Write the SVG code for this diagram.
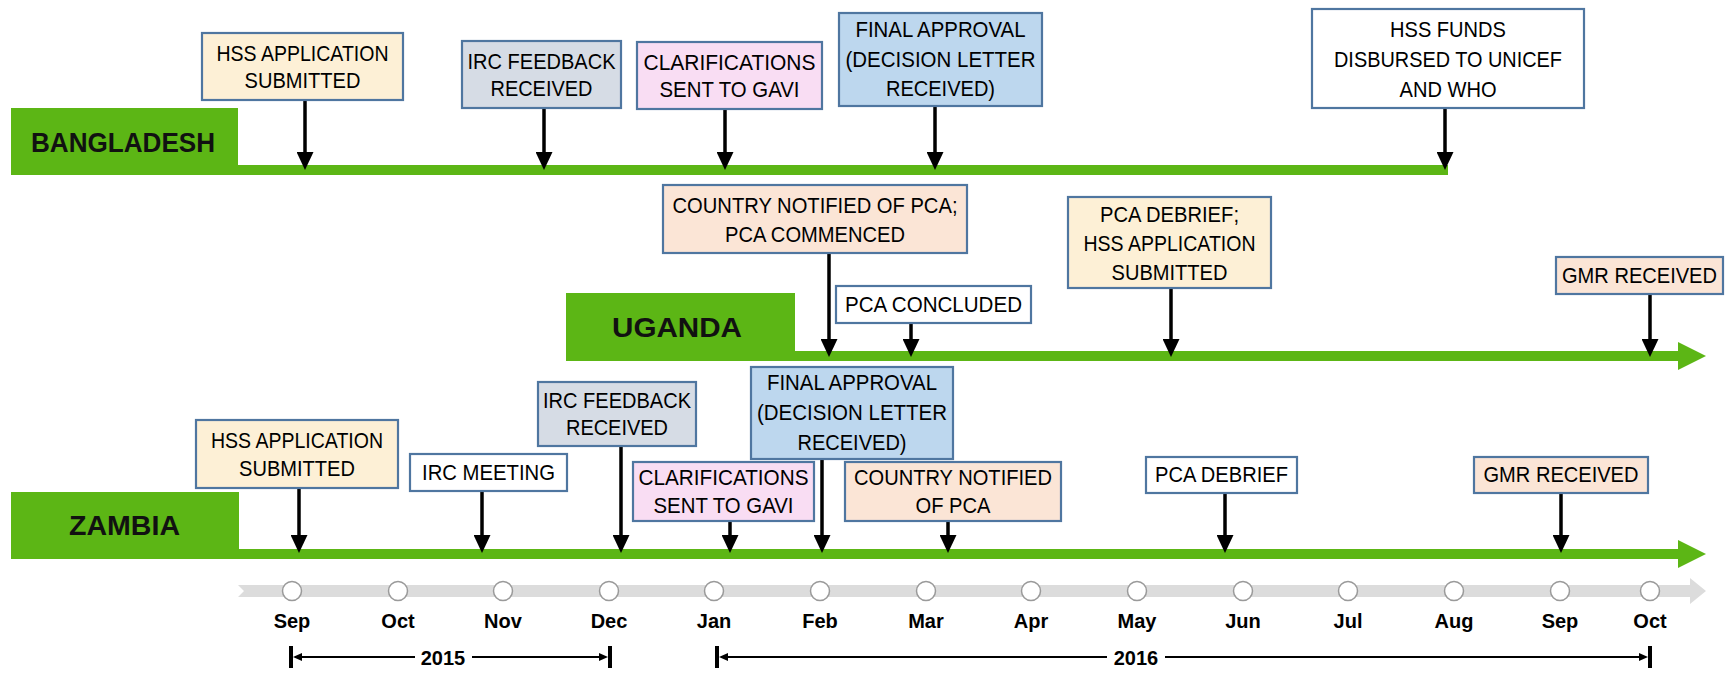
<svg xmlns="http://www.w3.org/2000/svg" width="1736" height="676" viewBox="0 0 1736 676">
<defs>
<style>
.box{stroke:#4f76a0;stroke-width:2.2}
.t{font-family:"Liberation Sans",Arial,sans-serif;font-size:22px;fill:#000;text-anchor:middle}
.lab{font-family:"Liberation Sans",Arial,sans-serif;font-size:28px;font-weight:bold;fill:#111}
.mon{font-family:"Liberation Sans",Arial,sans-serif;font-size:20px;font-weight:bold;fill:#000;text-anchor:middle}
.yr{font-family:"Liberation Sans",Arial,sans-serif;font-size:20px;font-weight:bold;fill:#000;text-anchor:middle}
.ar{stroke:#000;stroke-width:3.5;fill:none;marker-end:url(#ah)}
.g{fill:#5cb615}
.beige{fill:#fdf0d6}.grey{fill:#d6dce5}.pink{fill:#f9ddf3}.blue{fill:#bdd7ee}.white{fill:#fff}.peach{fill:#fbe5d6}
.circ{fill:#fff;stroke:#9a9a9a;stroke-width:1.5}
.br{stroke:#000;stroke-width:2;fill:none}
</style>
<marker id="ah" viewBox="0 0 18 17" markerWidth="18" markerHeight="17" refX="9" refY="8.5" orient="auto" markerUnits="userSpaceOnUse">
<path d="M0,0 L18,8.5 L0,17 z" fill="#000"/>
</marker>
</defs>
<rect width="1736" height="676" fill="#fff"/>

<g id="timelines">
<rect class="g" x="11" y="108" width="227" height="67"/>
<rect class="g" x="11" y="165" width="1437" height="10"/>
<rect class="g" x="566" y="293" width="229" height="68"/>
<rect class="g" x="566" y="351" width="1116" height="10"/>
<polygon class="g" points="1678,342 1706,356 1678,370"/>
<rect class="g" x="11" y="492" width="228" height="67"/>
<rect class="g" x="11" y="549" width="1671" height="10"/>
<polygon class="g" points="1678,540 1706,554 1678,568"/>
<text class="lab" x="31" y="152" textLength="184" lengthAdjust="spacingAndGlyphs">BANGLADESH</text>
<text class="lab" x="612" y="337" textLength="130" lengthAdjust="spacingAndGlyphs">UGANDA</text>
<text class="lab" x="69" y="535" textLength="111" lengthAdjust="spacingAndGlyphs">ZAMBIA</text>
</g>

<g id="axis">
<polygon points="238,585 1690,585 1690,578 1706,591 1690,604 1690,597 238,597 244,591" fill="#dcdcdc"/>
<circle class="circ" cx="292" cy="591" r="9.5"/>
<circle class="circ" cx="398" cy="591" r="9.5"/>
<circle class="circ" cx="503" cy="591" r="9.5"/>
<circle class="circ" cx="609" cy="591" r="9.5"/>
<circle class="circ" cx="714" cy="591" r="9.5"/>
<circle class="circ" cx="820" cy="591" r="9.5"/>
<circle class="circ" cx="926" cy="591" r="9.5"/>
<circle class="circ" cx="1031" cy="591" r="9.5"/>
<circle class="circ" cx="1137" cy="591" r="9.5"/>
<circle class="circ" cx="1243" cy="591" r="9.5"/>
<circle class="circ" cx="1348" cy="591" r="9.5"/>
<circle class="circ" cx="1454" cy="591" r="9.5"/>
<circle class="circ" cx="1560" cy="591" r="9.5"/>
<circle class="circ" cx="1650" cy="591" r="9.5"/>
<text class="mon" x="292" y="628">Sep</text>
<text class="mon" x="398" y="628">Oct</text>
<text class="mon" x="503" y="628">Nov</text>
<text class="mon" x="609" y="628">Dec</text>
<text class="mon" x="714" y="628">Jan</text>
<text class="mon" x="820" y="628">Feb</text>
<text class="mon" x="926" y="628">Mar</text>
<text class="mon" x="1031" y="628">Apr</text>
<text class="mon" x="1137" y="628">May</text>
<text class="mon" x="1243" y="628">Jun</text>
<text class="mon" x="1348" y="628">Jul</text>
<text class="mon" x="1454" y="628">Aug</text>
<text class="mon" x="1560" y="628">Sep</text>
<text class="mon" x="1650" y="628">Oct</text>
</g>

<g id="years">
<rect x="289" y="646" width="4" height="22" fill="#000"/>
<path class="br" d="M295,657 H415 M472,657 H604"/>
<polygon points="293,657 302,653 302,661" fill="#000"/>
<polygon points="608,657 599,653 599,661" fill="#000"/>
<rect x="608" y="646" width="4" height="22" fill="#000"/>
<text class="yr" x="443" y="665">2015</text>
<rect x="715" y="646" width="4" height="22" fill="#000"/>
<path class="br" d="M721,657 H1107 M1165,657 H1644"/>
<polygon points="719,657 728,653 728,661" fill="#000"/>
<polygon points="1648,657 1639,653 1639,661" fill="#000"/>
<rect x="1648" y="646" width="4" height="22" fill="#000"/>
<text class="yr" x="1136" y="665">2016</text>
</g>

<g id="connectors">
<line class="ar" x1="305" y1="100" x2="305" y2="161"/>
<line class="ar" x1="544" y1="108" x2="544" y2="161"/>
<line class="ar" x1="725" y1="109" x2="725" y2="161"/>
<line class="ar" x1="935" y1="106" x2="935" y2="161"/>
<line class="ar" x1="1445" y1="108" x2="1445" y2="161"/>
<line class="ar" x1="829" y1="253" x2="829" y2="348"/>
<line class="ar" x1="911" y1="323" x2="911" y2="348"/>
<line class="ar" x1="1171" y1="288" x2="1171" y2="348"/>
<line class="ar" x1="1650" y1="294" x2="1650" y2="348"/>
<line class="ar" x1="299" y1="488" x2="299" y2="544"/>
<line class="ar" x1="482" y1="491" x2="482" y2="544"/>
<line class="ar" x1="621" y1="446" x2="621" y2="544"/>
<line class="ar" x1="730" y1="521" x2="730" y2="544"/>
<line class="ar" x1="822" y1="459" x2="822" y2="544"/>
<line class="ar" x1="948" y1="521" x2="948" y2="544"/>
<line class="ar" x1="1225" y1="493" x2="1225" y2="544"/>
<line class="ar" x1="1561" y1="493" x2="1561" y2="544"/>
</g>

<g id="bd-hss">
<rect class="box beige" x="202" y="33" width="201" height="67"/>
<text class="t" x="302.5" y="61" textLength="172" lengthAdjust="spacingAndGlyphs">HSS APPLICATION</text>
<text class="t" x="302.5" y="88" textLength="116" lengthAdjust="spacingAndGlyphs">SUBMITTED</text>
</g>
<g id="bd-irc">
<rect class="box grey" x="462" y="41" width="159" height="67"/>
<text class="t" x="541.5" y="69" textLength="148" lengthAdjust="spacingAndGlyphs">IRC FEEDBACK</text>
<text class="t" x="541.5" y="96" textLength="102" lengthAdjust="spacingAndGlyphs">RECEIVED</text>
</g>
<g id="bd-clar">
<rect class="box pink" x="637" y="42" width="185" height="67"/>
<text class="t" x="729.5" y="70" textLength="172" lengthAdjust="spacingAndGlyphs">CLARIFICATIONS</text>
<text class="t" x="729.5" y="97" textLength="140" lengthAdjust="spacingAndGlyphs">SENT TO GAVI</text>
</g>
<g id="bd-final">
<rect class="box blue" x="839" y="13" width="203" height="93"/>
<text class="t" x="940.5" y="37" textLength="170" lengthAdjust="spacingAndGlyphs">FINAL APPROVAL</text>
<text class="t" x="940.5" y="67" textLength="190" lengthAdjust="spacingAndGlyphs">(DECISION LETTER</text>
<text class="t" x="940.5" y="96" textLength="109" lengthAdjust="spacingAndGlyphs">RECEIVED)</text>
</g>
<g id="bd-funds">
<rect class="box white" x="1312" y="9" width="272" height="99"/>
<text class="t" x="1448" y="37" textLength="116" lengthAdjust="spacingAndGlyphs">HSS FUNDS</text>
<text class="t" x="1448" y="67" textLength="228" lengthAdjust="spacingAndGlyphs">DISBURSED TO UNICEF</text>
<text class="t" x="1448" y="97" textLength="97" lengthAdjust="spacingAndGlyphs">AND WHO</text>
</g>

<g id="ug-notified">
<rect class="box peach" x="663" y="185" width="304" height="68"/>
<text class="t" x="815" y="213" textLength="285" lengthAdjust="spacingAndGlyphs">COUNTRY NOTIFIED OF PCA;</text>
<text class="t" x="815" y="242" textLength="180" lengthAdjust="spacingAndGlyphs">PCA COMMENCED</text>
</g>
<g id="ug-concluded">
<rect class="box white" x="836" y="286" width="195" height="37"/>
<text class="t" x="933.5" y="312" textLength="177" lengthAdjust="spacingAndGlyphs">PCA CONCLUDED</text>
</g>
<g id="ug-debrief">
<rect class="box beige" x="1068" y="197" width="203" height="91"/>
<text class="t" x="1169.5" y="222" textLength="139" lengthAdjust="spacingAndGlyphs">PCA DEBRIEF;</text>
<text class="t" x="1169.5" y="251" textLength="172" lengthAdjust="spacingAndGlyphs">HSS APPLICATION</text>
<text class="t" x="1169.5" y="280" textLength="116" lengthAdjust="spacingAndGlyphs">SUBMITTED</text>
</g>
<g id="ug-gmr">
<rect class="box peach" x="1556" y="257" width="167" height="37"/>
<text class="t" x="1639.5" y="283" textLength="155" lengthAdjust="spacingAndGlyphs">GMR RECEIVED</text>
</g>

<g id="zm-hss">
<rect class="box beige" x="196" y="420" width="202" height="68"/>
<text class="t" x="297" y="448" textLength="172" lengthAdjust="spacingAndGlyphs">HSS APPLICATION</text>
<text class="t" x="297" y="476" textLength="116" lengthAdjust="spacingAndGlyphs">SUBMITTED</text>
</g>
<g id="zm-ircm">
<rect class="box white" x="410" y="454" width="157" height="37"/>
<text class="t" x="488.5" y="480" textLength="133" lengthAdjust="spacingAndGlyphs">IRC MEETING</text>
</g>
<g id="zm-irc">
<rect class="box grey" x="538" y="382" width="158" height="64"/>
<text class="t" x="617" y="408" textLength="148" lengthAdjust="spacingAndGlyphs">IRC FEEDBACK</text>
<text class="t" x="617" y="435" textLength="102" lengthAdjust="spacingAndGlyphs">RECEIVED</text>
</g>
<g id="zm-clar">
<rect class="box pink" x="633" y="462" width="181" height="59"/>
<text class="t" x="723.5" y="485" textLength="170" lengthAdjust="spacingAndGlyphs">CLARIFICATIONS</text>
<text class="t" x="723.5" y="513" textLength="140" lengthAdjust="spacingAndGlyphs">SENT TO GAVI</text>
</g>
<g id="zm-final">
<rect class="box blue" x="751" y="367" width="202" height="92"/>
<text class="t" x="852" y="390" textLength="170" lengthAdjust="spacingAndGlyphs">FINAL APPROVAL</text>
<text class="t" x="852" y="420" textLength="190" lengthAdjust="spacingAndGlyphs">(DECISION LETTER</text>
<text class="t" x="852" y="450" textLength="109" lengthAdjust="spacingAndGlyphs">RECEIVED)</text>
</g>
<g id="zm-notified">
<rect class="box peach" x="845" y="462" width="216" height="59"/>
<text class="t" x="953" y="485" textLength="198" lengthAdjust="spacingAndGlyphs">COUNTRY NOTIFIED</text>
<text class="t" x="953" y="513" textLength="75" lengthAdjust="spacingAndGlyphs">OF PCA</text>
</g>
<g id="zm-debrief">
<rect class="box white" x="1146" y="457" width="151" height="36"/>
<text class="t" x="1221.5" y="482" textLength="133" lengthAdjust="spacingAndGlyphs">PCA DEBRIEF</text>
</g>
<g id="zm-gmr">
<rect class="box peach" x="1474" y="457" width="174" height="36"/>
<text class="t" x="1561" y="482" textLength="155" lengthAdjust="spacingAndGlyphs">GMR RECEIVED</text>
</g>
</svg>
